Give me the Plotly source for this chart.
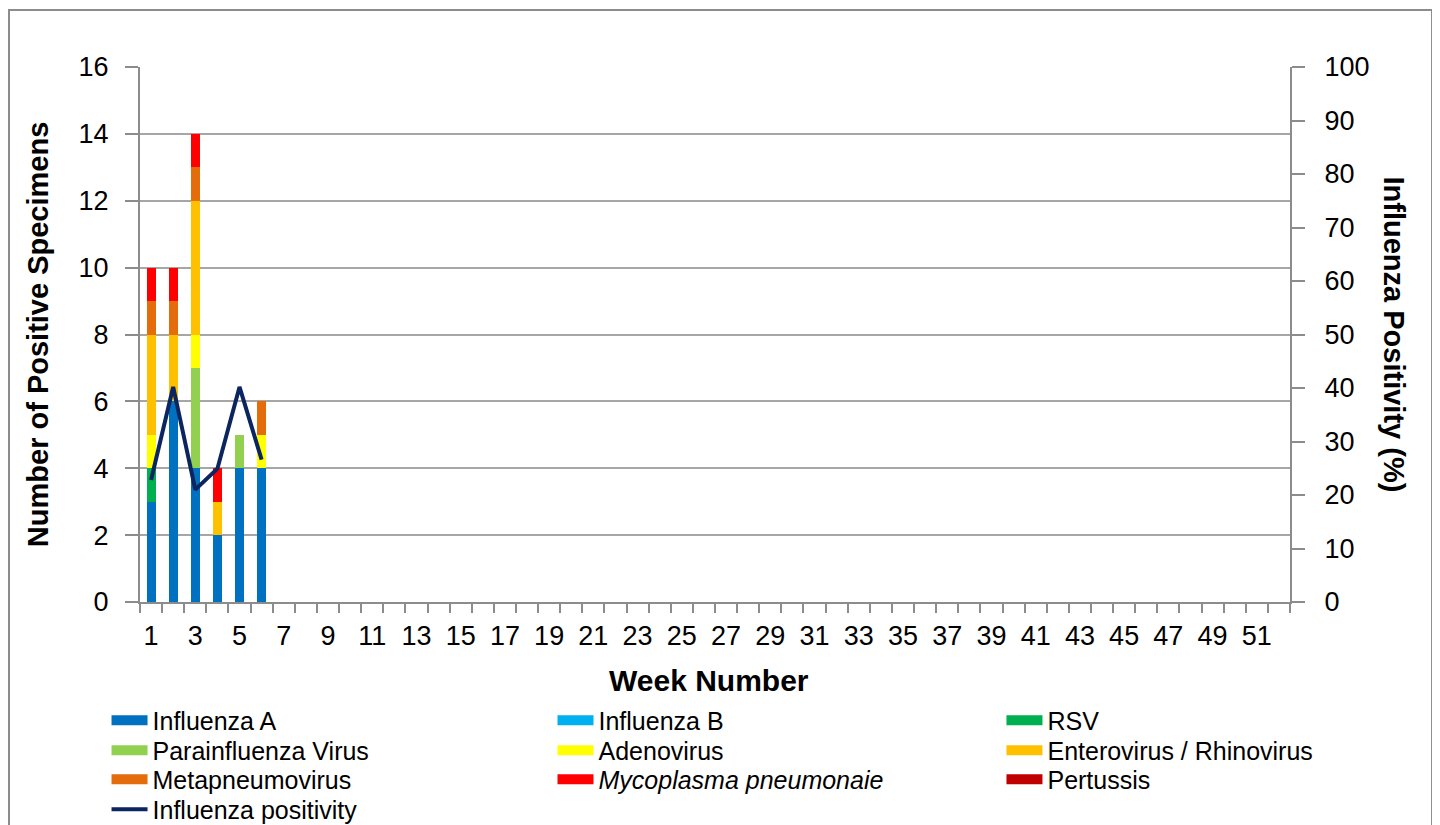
import plotly.graph_objects as go

# ---- data ----
weeks = [1, 2, 3, 4, 5, 6]
all_weeks = list(range(1, 53))
influenza_a = [3, 6, 4, 2, 4, 4]
influenza_b = [0, 0, 0, 0, 0, 0]
rsv = [1, 0, 0, 0, 0, 0]
parainfluenza = [0, 0, 3, 0, 1, 0]
adenovirus = [1, 0, 1, 0, 0, 1]
entero_rhino = [3, 2, 4, 1, 0, 0]
metapneumovirus = [1, 1, 1, 0, 0, 1]
mycoplasma = [1, 1, 1, 1, 0, 0]
pertussis = [0, 0, 0, 0, 0, 0]
flu_positivity = [22.8, 40.2, 21.0, 24.9, 40.2, 26.6]

x_tick_vals = list(range(1, 53, 2))
x_tick_text = [str(v) for v in x_tick_vals]
y_left_ticks = list(range(0, 17, 2))
y_right_ticks = list(range(0, 101, 10))

series = [
    ("Influenza A", influenza_a, "#0070C0"),
    ("Influenza B", influenza_b, "#00B0F0"),
    ("RSV", rsv, "#00B050"),
    ("Parainfluenza Virus", parainfluenza, "#92D050"),
    ("Adenovirus", adenovirus, "#FFFF00"),
    ("Enterovirus / Rhinovirus", entero_rhino, "#FFC000"),
    ("Metapneumovirus", metapneumovirus, "#E46C0A"),
    ("<i>Mycoplasma pneumonaie</i>", mycoplasma, "#FF0000"),
    ("Pertussis", pertussis, "#C00000"),
]
line_color = "#0B2560"
grid_color = "#A6A6A6"
axis_color = "#8C8C8C"
FONT = "Liberation Sans, Arial, sans-serif"

# legend layout: column x (paper) and row top y (paper)
col_x = [-0.0291, 0.3587, 0.7491]
row_y = [(602 - (c - 24.5)) / 535 for c in (722, 752, 781, 811)]

fig = go.Figure()
for name, vals, color in series:
    fig.add_trace(go.Bar(x=weeks, y=vals, name=name, marker=dict(color=color, line=dict(width=0)),
                         showlegend=False, yaxis="y"))

legends = {}
for i, (name, vals, color) in enumerate(series):
    lg = "legend" if i == 0 else f"legend{i + 1}"
    legends[lg] = dict(x=col_x[i % 3], y=row_y[i // 3])
    fig.add_trace(go.Scatter(x=[None], y=[None], mode="lines", name=name, legend=lg,
                             line=dict(color=color, width=12), hoverinfo="skip"))

legends["legend10"] = dict(x=col_x[0], y=row_y[3])
fig.add_trace(go.Scatter(x=weeks, y=flu_positivity, mode="lines", name="Influenza positivity",
                         line=dict(color=line_color, width=4), yaxis="y2", legend="legend10"))

legend_common = dict(yanchor="top", xanchor="left", traceorder="normal", font=dict(size=25),
                     itemclick=False, bgcolor="rgba(0,0,0,0)", orientation="v", itemwidth=36)
legend_layout = {k: dict(**v, **legend_common) for k, v in legends.items()}

fig.update_layout(
    width=1440, height=825,
    margin=dict(l=132, r=158, t=59, b=231, autoexpand=False),
    paper_bgcolor="white", plot_bgcolor="white",
    barmode="stack", bargap=0.59,
    font=dict(family=FONT, size=27, color="black"),
    xaxis=dict(range=[0.5, 52.5], tickvals=x_tick_vals, ticktext=x_tick_text, ticks="",
               showgrid=False, zeroline=False, showline=True, linecolor=axis_color, linewidth=2,
               tickfont=dict(size=27), ticklabelstandoff=9,
               minor=dict(tickvals=[w - 0.5 for w in all_weeks] + [52.5], ticks="outside",
                          ticklen=9, tickcolor=axis_color, tickwidth=1.5, showgrid=False)),
    yaxis=dict(range=[0, 16], tickvals=y_left_ticks, ticks="outside", ticklen=13,
               tickcolor=axis_color, tickwidth=1.5, showgrid=True, gridcolor=grid_color, gridwidth=1.5,
               zeroline=False, showline=True, linecolor=axis_color, linewidth=2,
               tickfont=dict(size=27), ticklabelstandoff=11),
    yaxis2=dict(range=[0, 100], tickvals=y_right_ticks, overlaying="y", side="right",
                ticks="outside", ticklen=13, tickcolor=axis_color, tickwidth=1.5,
                showgrid=False, zeroline=False, showline=True, linecolor=axis_color, linewidth=2,
                tickfont=dict(size=27), ticklabelstandoff=14),
    showlegend=True,
    **legend_layout,
)

fig.add_annotation(text="<b>Number of Positive Specimens</b>", xref="paper", yref="paper",
                   x=-0.089, y=0.5, textangle=-90, showarrow=False, font=dict(size=29),
                   xanchor="center", yanchor="middle")
fig.add_annotation(text="<b>Influenza Positivity (%)</b>", xref="paper", yref="paper",
                   x=1.0913, y=0.5, textangle=90, showarrow=False, font=dict(size=29),
                   xanchor="center", yanchor="middle")
fig.add_annotation(text="<b>Week Number</b>", xref="paper", yref="paper",
                   x=0.495, y=-0.146, showarrow=False, font=dict(size=30),
                   xanchor="center", yanchor="middle")

# outer chart frame
fig.add_shape(type="rect", xref="paper", yref="paper", x0=-0.1139, x1=1.1235, y0=-0.45, y1=1.1065,
              line=dict(color="#8C8C8C", width=2), layer="below")

fig.write_html("out.html")
